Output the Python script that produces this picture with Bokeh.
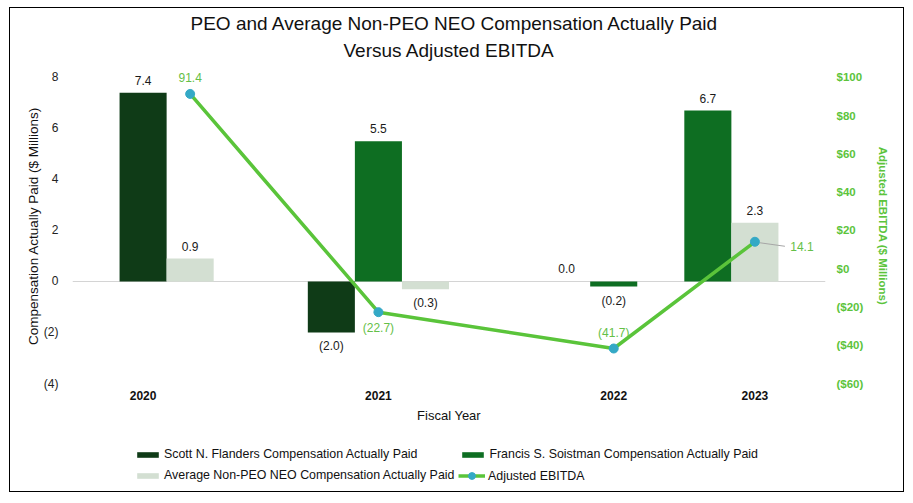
from bokeh.plotting import figure
from bokeh.layouts import column
from bokeh.models import (Range1d, LinearAxis, FixedTicker, Span, Title, Legend,
                          LegendItem, ColumnDataSource)
from bokeh.core.properties import value
from bokeh.embed import file_html
from bokeh.resources import INLINE

# ---------------- data ----------------
years = ["2020", "2021", "2022", "2023"]
scott = [7.4, -2.0, 0.0, None]          # Scott N. Flanders CAP ($M)
francis = [None, 5.5, -0.2, 6.7]        # Francis S. Soistman CAP ($M)
avg_neo = [0.9, -0.3, None, 2.3]        # Average Non-PEO NEO CAP ($M)
ebitda = [91.4, -22.7, -41.7, 14.1]     # Adjusted EBITDA ($M)

left_ticks = [-4, -2, 0, 2, 4, 6, 8]
right_ticks = [-60, -40, -20, 0, 20, 40, 60, 80, 100]

# ---------------- layout (slot positions along x, not data) ----------------
slot_scott = {"2020": 1.5, "2021": 5.5, "2022": 10.5}
slot_francis = {"2021": 6.5, "2022": 11.5, "2023": 13.5}
slot_avg = {"2020": 2.5, "2021": 7.5, "2023": 14.5}
slot_line = {"2020": 2.5, "2021": 6.5, "2022": 11.5, "2023": 14.5}
slot_tick = {"2020": 1.5, "2021": 6.5, "2022": 11.5, "2023": 14.5}
ebitda_label_pos = {"2020": "above", "2021": "below", "2022": "above", "2023": "right"}

FONT = "Liberation Sans"
C_SCOTT = "#0f3b17"
C_FRANCIS = "#0e6e22"
C_AVG = "#d3dfd2"
C_LINE = "#5ac43a"
C_DOT = "#34a9c6"
C_GREEN_TXT = "#64c047"
C_AXIS_TXT = "#5cc43c"
NAN = float("nan")


def fmt(v):
    return f"({abs(v):.1f})" if v < 0 else f"{v:.1f}"


def fmt_money(v):
    return f"(${abs(v):.0f})" if v < 0 else f"${v:.0f}"


W = 893
H_MAIN, H_LEG = 417, 66
p = figure(width=W, height=H_MAIN, output_backend="svg", toolbar_location=None,
           x_range=Range1d(0, 16), y_range=Range1d(-4, 8.35),
           min_border_left=62, min_border_right=78, min_border_top=60,
           min_border_bottom=34)
p.outline_line_color = None
p.xgrid.visible = False
p.ygrid.visible = False
p.background_fill_color = "white"
p.border_fill_color = "white"

p.extra_y_ranges = {"ebitda": Range1d(-60, 104.7)}

# zero line
p.add_layout(Span(location=0, dimension="width", line_color="#d4d4d4",
                  line_width=1.2, level="underlay"))


def bar_source(vals, slots):
    xs, tops, labels, ly, offs = [], [], [], [], []
    for y, v in zip(years, vals):
        if v is None or y not in slots:
            continue
        xs.append(slots[y])
        tops.append(v)
        labels.append(fmt(v))
        ly.append(v)
        offs.append(-12.5 if v >= 0 else 14)
    return ColumnDataSource(dict(x=xs, top=tops, label=labels, ly=ly, off=offs))


src_s = bar_source(scott, slot_scott)
src_f = bar_source(francis, slot_francis)
src_a = bar_source(avg_neo, slot_avg)

p.vbar(x="x", top="top", bottom=0, width=1.0, source=src_s,
       fill_color=C_SCOTT, line_color=None)
p.vbar(x="x", top="top", bottom=0, width=1.0, source=src_f,
       fill_color=C_FRANCIS, line_color=None)
p.vbar(x="x", top="top", bottom=0, width=1.0, source=src_a,
       fill_color=C_AVG, line_color=None)

for src in (src_s, src_f, src_a):
    p.text(x="x", y="ly", text="label", y_offset="off", source=src,
           text_align="center", text_baseline="middle",
           text_font=value(FONT), text_font_size="12px", text_color="#1a1a1a")

# EBITDA line
lx = [slot_line[y] for y in years]
src_l = ColumnDataSource(dict(x=lx, y=ebitda))
p.line(x="x", y="y", source=src_l, y_range_name="ebitda",
       line_color=C_LINE, line_width=3.5)
p.scatter(x="x", y="y", source=src_l, y_range_name="ebitda", size=9,
          fill_color=C_DOT, line_color=C_DOT)

lab_x, lab_y, lab_t, lab_xo, lab_yo = [], [], [], [], []
for y, v, xx in zip(years, ebitda, lx):
    pos = ebitda_label_pos[y]
    lab_x.append(xx)
    lab_y.append(v)
    lab_t.append(fmt(v))
    if pos == "above":
        lab_xo.append(0); lab_yo.append(-16)
    elif pos == "below":
        lab_xo.append(0); lab_yo.append(16)
    else:
        lab_xo.append(47); lab_yo.append(5)
src_lab = ColumnDataSource(dict(x=lab_x, y=lab_y, t=lab_t, xo=lab_xo, yo=lab_yo))
p.text(x="x", y="y", text="t", x_offset="xo", y_offset="yo", source=src_lab,
       y_range_name="ebitda", text_align="center", text_baseline="middle",
       text_font=value(FONT), text_font_size="12px", text_color=C_GREEN_TXT)

# leader line for the label placed at the right
px_per_x = 753 / 16.0
px_per_e = 306 / 160.0
lead_x0, lead_x1, lead_y0, lead_y1 = [], [], [], []
for y, v, xx in zip(years, ebitda, lx):
    if ebitda_label_pos[y] == "right":
        lead_x0.append(xx + 5 / px_per_x)
        lead_x1.append(xx + 30 / px_per_x)
        lead_y0.append(v - 1 / px_per_e)
        lead_y1.append(v - 4.5 / px_per_e)
p.segment(x0=lead_x0, y0=lead_y0, x1=lead_x1, y1=lead_y1, y_range_name="ebitda",
          line_color="#a6a6a6", line_width=1)

# ---------------- axes ----------------
xa = p.xaxis[0]
xa.ticker = FixedTicker(ticks=[slot_tick[y] for y in years])
xa.major_label_overrides = {slot_tick[y]: y for y in years}
xa.axis_line_color = None
xa.major_tick_line_color = None
xa.minor_tick_line_color = None
xa.major_label_standoff = 1
xa.major_label_text_font = FONT
xa.major_label_text_font_size = "12px"
xa.major_label_text_font_style = "bold"
xa.major_label_text_color = "#111111"
xa.axis_label = "Fiscal Year"
xa.axis_label_text_font = FONT
xa.axis_label_text_font_size = "13px"
xa.axis_label_text_font_style = "normal"
xa.axis_label_text_color = "#111111"
xa.axis_label_standoff = 5

ya = p.yaxis[0]
ya.ticker = FixedTicker(ticks=left_ticks)
ya.major_label_overrides = {t: (f"({abs(t)})" if t < 0 else str(t)) for t in left_ticks}
ya.axis_line_color = None
ya.major_tick_line_color = None
ya.minor_tick_line_color = None
ya.major_label_standoff = 8
ya.major_label_text_font = FONT
ya.major_label_text_font_size = "12px"
ya.major_label_text_color = "#222222"
ya.axis_label = "Compensation Actually Paid ($ Millions)"
ya.axis_label_text_font = FONT
ya.axis_label_text_font_size = "13.5px"
ya.axis_label_text_font_style = "normal"
ya.axis_label_text_color = "#111111"
ya.axis_label_standoff = 0

ra = LinearAxis(y_range_name="ebitda")
ra.ticker = FixedTicker(ticks=right_ticks)
ra.major_label_overrides = {t: fmt_money(t) for t in right_ticks}
ra.axis_line_color = None
ra.major_tick_line_color = None
ra.minor_tick_line_color = None
ra.major_label_standoff = 5
ra.major_label_text_font = FONT
ra.major_label_text_font_size = "11.5px"
ra.major_label_text_font_style = "bold"
ra.major_label_text_color = C_AXIS_TXT
ra.axis_label = "Adjusted EBITDA ($ Millions)"
ra.axis_label_text_font = FONT
ra.axis_label_text_font_size = "11.5px"
ra.axis_label_text_font_style = "bold"
ra.axis_label_text_color = C_AXIS_TXT
ra.axis_label_standoff = 11
p.add_layout(ra, "right")

# ---------------- titles ----------------
t2 = Title(text="Versus Adjusted EBITDA", align="left", offset=271, standoff=14.5,
           text_font=FONT, text_font_size="19px", text_font_style="normal",
           text_color="#111111")
t1 = Title(text="PEO and Average Non-PEO NEO Compensation Actually Paid",
           align="left", offset=118, standoff=-7.5, text_font=FONT,
           text_font_size="19px", text_font_style="normal", text_color="#111111")
p.add_layout(t2, "above")
p.add_layout(t1, "above")

# ---------------- legend (separate strip below the chart) ----------------
pl = figure(width=W, height=H_LEG, output_backend="svg", toolbar_location=None,
            x_range=Range1d(0, 1), y_range=Range1d(0, 1),
            x_axis_type=None, y_axis_type=None, min_border=0)
pl.outline_line_color = None
pl.xgrid.visible = False
pl.ygrid.visible = False
pl.background_fill_color = "white"
pl.border_fill_color = "white"
# legend swatches: renderers that carry styling only (nothing drawn in the strip)
off = dict(x=[NAN], top=[NAN])
g_s = pl.vbar(x="x", top="top", width=1, source=ColumnDataSource(off),
              fill_color=C_SCOTT, line_color=None)
g_f = pl.vbar(x="x", top="top", width=1, source=ColumnDataSource(off),
              fill_color=C_FRANCIS, line_color=None)
g_a = pl.vbar(x="x", top="top", width=1, source=ColumnDataSource(off),
              fill_color=C_AVG, line_color=None)
el = ColumnDataSource(dict(x=[NAN, NAN], y=[NAN, NAN]))
g_l = pl.line(x="x", y="y", source=el, line_color=C_LINE, line_width=3.5)
g_d = pl.scatter(x="x", y="y", source=ColumnDataSource(dict(x=[50.0], y=[50.0])),
                 fill_color=C_DOT, line_color=C_DOT)

common = dict(label_text_font=FONT, label_text_font_size="12.4px",
              label_text_color="#111111", label_standoff=3, label_height=16,
              spacing=5, padding=0, margin=0, border_line_color=None,
              background_fill_alpha=0, glyph_width=27)

legend_bars = Legend(items=[
    LegendItem(label="Scott N. Flanders Compensation Actually Paid", renderers=[g_s], index=0),
    LegendItem(label="Francis S. Soistman Compensation Actually Paid", renderers=[g_f], index=0),
    LegendItem(label="Average Non-PEO NEO Compensation Actually Paid", renderers=[g_a], index=0),
], orientation="horizontal", ncols=2, location=(62, 8), glyph_height=7, **common)
pl.add_layout(legend_bars, "center")

legend_line = Legend(items=[
    LegendItem(label="Adjusted EBITDA", renderers=[g_l, g_d], index=0),
], orientation="horizontal", location=(386, 7), glyph_height=17, **common)
pl.add_layout(legend_line, "center")

lay = column(p, pl, spacing=0,
             styles={"margin-left": "10px", "margin-top": "8px",
                     "outline": "1px solid #000"})

open("out.html", "w").write(file_html(lay, INLINE))
